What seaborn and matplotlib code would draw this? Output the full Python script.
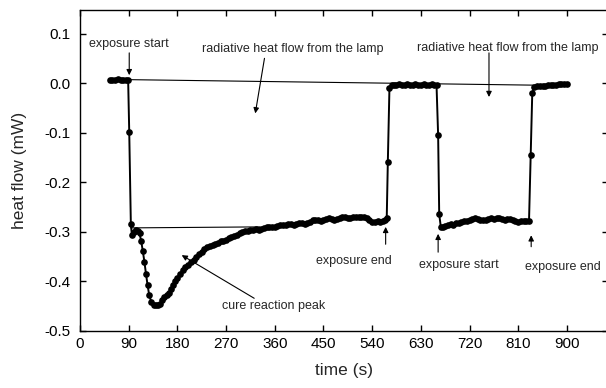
import matplotlib
matplotlib.use("Agg")
import matplotlib.pyplot as plt
import seaborn as sns
import pandas as pd

# ---- data ----
time_s = [55, 60, 65, 70, 75, 80, 85, 89,
          91, 94, 96, 99, 103, 107, 110, 113, 116, 119, 122, 125, 128, 132, 136,
          140, 144, 148, 152, 156, 160, 164, 168, 172, 176, 180, 185, 190, 195,
          200, 205, 210, 215, 220, 225, 230, 235, 240, 245, 250, 255, 260, 265,
          270, 275, 280, 285, 290, 295, 300, 305, 310, 315, 320, 325, 330, 335,
          340, 345, 350, 355, 360, 365, 370, 375, 380, 385, 390, 395, 400, 405,
          410, 415, 420, 425, 430, 435, 440, 445, 450, 455, 460, 465, 470, 475,
          480, 485, 490, 495, 500, 505, 510, 515, 520, 525, 530, 535, 540, 545,
          550, 555, 560, 564, 567,
          569, 572, 576, 580, 585, 590, 595, 600, 605, 610, 615, 620, 625, 630,
          635, 640, 645, 650, 655, 659,
          662, 664, 667, 671, 675, 680, 685, 690, 695, 700, 705, 710, 715, 720,
          725, 730, 735, 740, 745, 750, 755, 760, 765, 770, 775, 780, 785, 790,
          795, 800, 805, 810, 815, 820, 825, 830,
          833, 836, 840, 845, 850, 855, 860, 865, 870, 875, 880, 885, 890, 895, 900]
heat_flow_mw = [0.007, 0.007, 0.007, 0.008, 0.007, 0.007, 0.007, 0.006,
                -0.098, -0.285, -0.307, -0.300, -0.297, -0.298, -0.303, -0.318,
                -0.338, -0.360, -0.385, -0.408, -0.428, -0.442, -0.447,
                -0.448, -0.448, -0.445, -0.438, -0.432, -0.428, -0.424, -0.416,
                -0.408, -0.400, -0.393, -0.385, -0.376, -0.370,
                -0.366, -0.361, -0.357, -0.350, -0.345, -0.340, -0.335, -0.330,
                -0.328, -0.327, -0.324, -0.322, -0.319, -0.318,
                -0.316, -0.313, -0.311, -0.309, -0.306, -0.303, -0.301, -0.299,
                -0.298, -0.297, -0.296, -0.295, -0.296, -0.295,
                -0.292, -0.291, -0.290, -0.291, -0.290, -0.288, -0.286, -0.287,
                -0.286, -0.285, -0.284, -0.286, -0.285, -0.283,
                -0.282, -0.284, -0.283, -0.280, -0.277, -0.276, -0.277, -0.278,
                -0.276, -0.274, -0.273, -0.274, -0.276, -0.274,
                -0.272, -0.271, -0.270, -0.272, -0.272, -0.271, -0.270, -0.270,
                -0.271, -0.270, -0.272, -0.277, -0.280, -0.281,
                -0.279, -0.281, -0.279, -0.276, -0.272,
                -0.160, -0.010, -0.004, -0.003, -0.003, -0.002, -0.003, -0.003,
                -0.002, -0.003, -0.003, -0.002, -0.003, -0.003,
                -0.002, -0.003, -0.003, -0.002, -0.003, -0.003,
                -0.105, -0.265, -0.290, -0.290, -0.288, -0.287, -0.285, -0.286,
                -0.283, -0.282, -0.281, -0.279, -0.278, -0.276,
                -0.274, -0.273, -0.274, -0.276, -0.277, -0.276, -0.274, -0.273,
                -0.274, -0.273, -0.273, -0.275, -0.276, -0.275,
                -0.275, -0.277, -0.279, -0.280, -0.279, -0.279, -0.278, -0.278,
                -0.145, -0.020, -0.007, -0.006, -0.006, -0.005, -0.005, -0.004,
                -0.004, -0.003, -0.003, -0.002, -0.002, -0.001, -0.001]

# construction lines (baselines) drawn on the chart
lamp_line_t = [91, 900]
lamp_line_v = [0.007, -0.005]
cure_line_t = [94, 332]
cure_line_v = [-0.292, -0.290]

x_ticks = [0, 90, 180, 270, 360, 450, 540, 630, 720, 810, 900]
y_ticks = [-0.5, -0.4, -0.3, -0.2, -0.1, 0.0, 0.1]

# ---- plotting ----
sns.set_style("ticks")
plt.rcParams['font.family'] = ['Liberation Sans', 'DejaVu Sans']
plt.rcParams['axes.unicode_minus'] = False

fig = plt.figure(figsize=(6.06, 3.88), dpi=100)
ax = fig.add_axes([80 / 606, 1 - 331 / 388, (608 - 80) / 606, (331 - 10) / 388])

df = pd.DataFrame({"time": time_s, "heat": heat_flow_mw})
sns.lineplot(data=df, x="time", y="heat", ax=ax, sort=False, estimator=None,
             color="black", linewidth=1.4, marker="o", markersize=4.8,
             markeredgewidth=0, markerfacecolor="black")

ax.plot(lamp_line_t, lamp_line_v, color="black", linewidth=0.8)
ax.plot(cure_line_t, cure_line_v, color="black", linewidth=0.8)

ax.set_xlim(0, 976)
ax.set_ylim(-0.5, 0.1475)
ax.set_xticks(x_ticks)
ax.set_yticks(y_ticks)
ax.set_yticklabels([f"{v:.1f}" for v in y_ticks])

for s in ax.spines.values():
    s.set_linewidth(1.0)
    s.set_color("black")

ax.tick_params(axis="both", which="major", direction="in", length=4, width=1,
               top=True, right=True, labelsize=11, colors="black")
ax.tick_params(axis="x", pad=4)
ax.tick_params(axis="y", pad=7)

ax.set_xlabel("time (s)", fontsize=12.5, labelpad=9)
ax.set_ylabel("heat flow (mW)", fontsize=12.5, labelpad=12)

arrow = dict(arrowstyle="-|>", color="black", lw=0.8, mutation_scale=8,
             shrinkA=0, shrinkB=0)
fs = 9

ax.annotate("", xy=(91, 0.016), xytext=(91, 0.061), arrowprops=arrow)
ax.text(91, 0.079, "exposure start", ha="center", va="center", fontsize=fs)
ax.annotate("", xy=(324, -0.061), xytext=(341, 0.050), arrowprops=arrow)
ax.text(394, 0.069, "radiative heat flow from the lamp", ha="center",
        va="center", fontsize=fs)
ax.annotate("", xy=(756, -0.028), xytext=(756, 0.061), arrowprops=arrow)
ax.text(790, 0.071, "radiative heat flow from the lamp", ha="center",
        va="center", fontsize=fs)
ax.annotate("", xy=(188, -0.347), xytext=(322, -0.434), arrowprops=arrow)
ax.text(357, -0.449, "cure reaction peak", ha="center", va="center", fontsize=fs)
ax.annotate("", xy=(565, -0.290), xytext=(565, -0.325), arrowprops=arrow)
ax.text(507, -0.358, "exposure end", ha="center", va="center", fontsize=fs)
ax.annotate("", xy=(662, -0.304), xytext=(662, -0.341), arrowprops=arrow)
ax.text(700, -0.366, "exposure start", ha="center", va="center", fontsize=fs)
ax.annotate("", xy=(834, -0.307), xytext=(834, -0.330), arrowprops=arrow)
ax.text(892, -0.370, "exposure end", ha="center", va="center", fontsize=fs)

fig.savefig("out.png", dpi=100)
